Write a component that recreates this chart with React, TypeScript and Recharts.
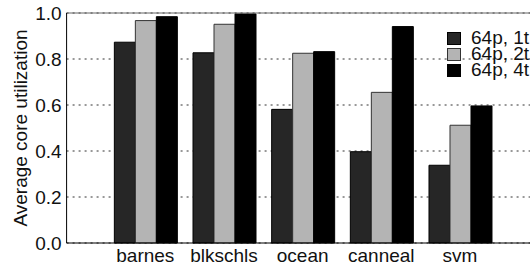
import { BarChart, Bar, XAxis, YAxis, CartesianGrid, Legend, ReferenceLine } from "recharts";

const BENCHMARKS = ["barnes", "blkschls", "ocean", "canneal", "svm"];
const ONE_THREAD = [0.873, 0.827, 0.581, 0.397, 0.338];
const TWO_THREADS = [0.967, 0.951, 0.825, 0.655, 0.512];
const FOUR_THREADS = [0.984, 0.996, 0.832, 0.941, 0.596];
const Y_TICKS = [0, 0.2, 0.4, 0.6, 0.8, 1.0];

const SERIES = [
  { key: "t1", name: "64p, 1t", fill: "#262626", stroke: "#000" },
  { key: "t2", name: "64p, 2t", fill: "#b4b4b4", stroke: "#333" },
  { key: "t4", name: "64p, 4t", fill: "#000000", stroke: "#000" },
];

const data = BENCHMARKS.map((name, i) => ({
  name,
  t1: ONE_THREAD[i],
  t2: TWO_THREADS[i],
  t4: FOUR_THREADS[i],
}));

const FONT = "'Liberation Sans', Arial, sans-serif";
const TEXT = "#111";
const FS = 19;

function LegendBox() {
  return (
    <div style={{ fontFamily: FONT, fontSize: FS, color: TEXT, lineHeight: "16px" }}>
      {SERIES.map((s) => (
        <div key={s.key} style={{ display: "flex", alignItems: "center", height: 16, whiteSpace: "nowrap" }}>
          <span style={{ width: 12, height: 11, background: s.fill, border: `1px solid ${s.stroke}`, display: "inline-block", marginRight: 10, flexShrink: 0 }} />
          <span>{s.name}</span>
        </div>
      ))}
    </div>
  );
}

export default function App() {
  return (
    <div style={{ position: "absolute", left: 0, top: 0, width: 530, height: 270, overflow: "hidden", background: "#fff" }}>
      <BarChart
        width={545}
        height={270}
        data={data}
        margin={{ top: 13, right: 6.3, left: 0, bottom: 0 }}
        barGap={0}
        barCategoryGap={8.35}
      >
        <CartesianGrid vertical={false} stroke="#333" strokeDasharray="2 4" />
        <XAxis
          dataKey="name"
          height={27}
          padding={{ left: 39.4, right: 39.4 }}
          axisLine={{ stroke: "#000" }}
          tickLine={false}
          tickSize={2}
          tickMargin={4}
          tick={{ fontSize: FS, fill: TEXT, fontFamily: FONT }}
        />
        <YAxis
          width={66.6}
          domain={[0, 1]}
          ticks={Y_TICKS}
          tickFormatter={(v: number) => v.toFixed(1)}
          axisLine={{ stroke: "#000" }}
          tickLine={false}
          tickSize={1}
          tickMargin={4}
          tick={{ fontSize: FS, fill: TEXT, fontFamily: FONT }}
          label={{
            value: "Average core utilization",
            angle: -90,
            position: "insideLeft",
            offset: 20,
            style: { textAnchor: "middle", fontSize: FS, fill: TEXT, fontFamily: FONT },
          }}
        />
        <ReferenceLine y={1} stroke="#666" />
        <Legend
          layout="vertical"
          align="center"
          verticalAlign="middle"
          content={<LegendBox />}
          wrapperStyle={{ position: "absolute", top: 30, left: 447, width: 100 }}
        />
        {SERIES.map((s) => (
          <Bar key={s.key} dataKey={s.key} name={s.name} fill={s.fill} stroke={s.stroke} strokeWidth={1} isAnimationActive={false} />
        ))}
      </BarChart>
    </div>
  );
}
